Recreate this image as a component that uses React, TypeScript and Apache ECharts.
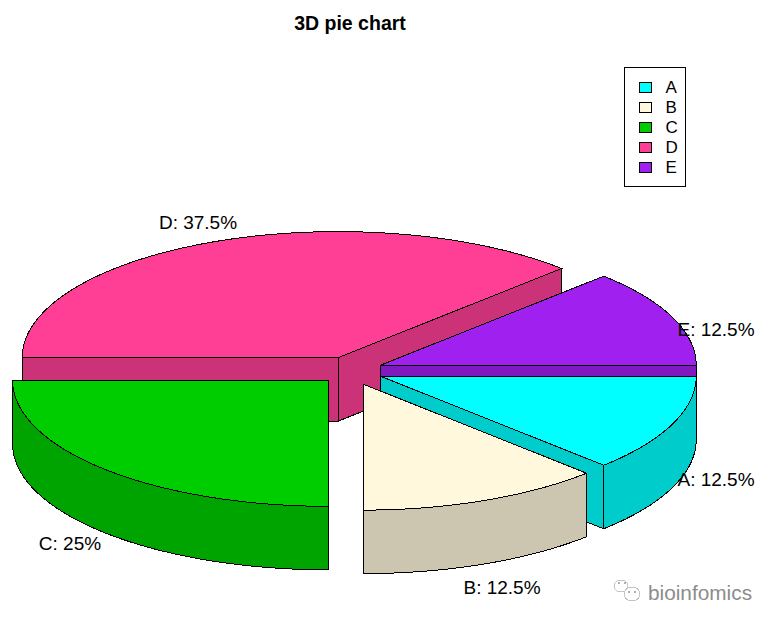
import React, { useEffect, useRef } from "react";
import * as echarts from "echarts";

const categories = ["A", "B", "C", "D", "E"];
const sliceValues = [12.5, 12.5, 25, 37.5, 12.5];
const topColors = ["#00FFFF", "#FFF8DC", "#00CD00", "#FF3E96", "#A020F0"];
const sideColors = ["#00CCCC", "#CCC6B0", "#00A400", "#CC3278", "#801AC0"];
const explodeBy = [32.2, 33, 31, 32.2, 32.2];
const paintOrder = [3, 4, 0, 1, 2];
const labelTexts = ["A: 12.5%", "B: 12.5%", "C: 25%", "D: 37.5%", "E: 12.5%"];
const labelAnchors = [
  [716, 479],
  [502, 587],
  [70, 543],
  [198, 222],
  [716, 329],
];

const CX = 350.5;
const CY = 370.7;
const RX = 316;
const RY = 126;
const DEPTH = 63.5;
const EXPLODE_Y = 0.44;
const FONT = '"Liberation Sans", Arial, sans-serif';

function App() {
  const ref = useRef<HTMLDivElement>(null);
  useEffect(() => {
    document.body.style.margin = "0";
    const chart = echarts.init(ref.current!, null, { renderer: "svg" });
    const total = sliceValues.reduce((a, b) => a + b, 0);

    const renderSlice = (idx: number) => (_params: any, api: any) => {
      const value = api.value(0);
      const before = sliceValues.slice(0, idx).reduce((a, b) => a + b, 0);
      const a0 = (-before / total) * 2 * Math.PI;
      const a1 = a0 - (value / total) * 2 * Math.PI;
      const mid = (a0 + a1) / 2;
      const ox = CX + explodeBy[idx] * Math.cos(mid);
      const oy = CY - explodeBy[idx] * EXPLODE_Y * Math.sin(mid);
      const pt = (a: number, dz = 0) => [ox + RX * Math.cos(a), oy - RY * Math.sin(a) + dz];
      const arc = (from: number, to: number, dz = 0) => {
        const n = Math.max(2, Math.ceil((Math.abs(to - from) / Math.PI) * 120));
        const out: number[][] = [];
        for (let i = 0; i <= n; i++) out.push(pt(from + ((to - from) * i) / n, dz));
        return out;
      };
      const face = (points: number[][], fill: string) => ({
        type: "polygon",
        shape: { points },
        style: { fill, stroke: "#000", lineWidth: 1 },
      });
      const children: any[] = [];
      const side = sideColors[idx];
      const radial = (a: number) =>
        face([[ox, oy], pt(a), pt(a, DEPTH), [ox, oy + DEPTH]], side);
      if (Math.cos(a0) < -1e-6) children.push(radial(a0));
      if (Math.cos(a1) > 1e-6) children.push(radial(a1));
      // outer wall: only the part on the front half of the ellipse
      const from = Math.min(0, a0);
      const to = Math.max(-Math.PI, a1);
      if (from > to + 1e-6) {
        children.push(face([...arc(from, to), ...arc(to, from, DEPTH)], side));
      }
      children.push(face([[ox, oy], ...arc(a0, a1)], topColors[idx]));
      children.push({
        type: "text",
        x: labelAnchors[idx][0],
        y: labelAnchors[idx][1],
        style: {
          text: labelTexts[idx],
          fill: "#000",
          font: `19px ${FONT}`,
          align: "center",
          verticalAlign: "middle",
        },
      });
      return { type: "group", children };
    };

    chart.setOption({
      animation: false,
      backgroundColor: "#fff",
      title: {
        text: "3D pie chart",
        left: 345,
        top: 8,
        textAlign: "center",
        textStyle: { fontFamily: FONT, fontWeight: "bold", fontSize: 19.5, color: "#000" },
      },
      legend: {
        data: categories,
        orient: "vertical",
        left: 624,
        top: 67,
        padding: [12, 8, 10, 15],
        itemWidth: 12,
        itemHeight: 10,
        itemGap: 3,
        icon: "rect",
        selectedMode: false,
        borderColor: "#000",
        borderWidth: 1,
        itemStyle: { borderColor: "#000", borderWidth: 1 },
        textStyle: {
          fontFamily: FONT,
          fontSize: 17,
          color: "#000",
          lineHeight: 10,
          padding: [0, 0, 0, 9],
        },
      },
      series: paintOrder.map((idx) => ({
        type: "custom",
        name: categories[idx],
        coordinateSystem: "none",
        itemStyle: { color: topColors[idx] },
        data: [[sliceValues[idx]]],
        renderItem: renderSlice(idx),
      })),
      graphic: [
        {
          type: "ellipse",
          shape: { cx: 621, cy: 586, rx: 7, ry: 6 },
          style: { fill: "transparent", stroke: "#c4c4c4", lineWidth: 1 },
        },
        {
          type: "ellipse",
          shape: { cx: 632, cy: 594, rx: 8, ry: 7 },
          style: { fill: "#fff", stroke: "#c4c4c4", lineWidth: 1 },
        },
        {
          type: "circle",
          shape: { cx: 619, cy: 583, r: 0.8 },
          style: { fill: "#b0b0b0" },
        },
        {
          type: "circle",
          shape: { cx: 625, cy: 583, r: 0.8 },
          style: { fill: "#b0b0b0" },
        },
        {
          type: "circle",
          shape: { cx: 629, cy: 592, r: 0.8 },
          style: { fill: "#b0b0b0" },
        },
        {
          type: "circle",
          shape: { cx: 635, cy: 592, r: 0.8 },
          style: { fill: "#b0b0b0" },
        },
        {
          type: "text",
          x: 648,
          y: 592,
          style: {
            text: "bioinfomics",
            fill: "#8c8c8c",
            font: `20.8px ${FONT}`,
            verticalAlign: "middle",
          },
        },
      ],
    });
    return () => chart.dispose();
  }, []);
  return (
    <>
      <style>{`svg path{shape-rendering:crispEdges}`}</style>
      <div ref={ref} style={{ width: 777, height: 623 }} />
    </>
  );
}

export default App;
